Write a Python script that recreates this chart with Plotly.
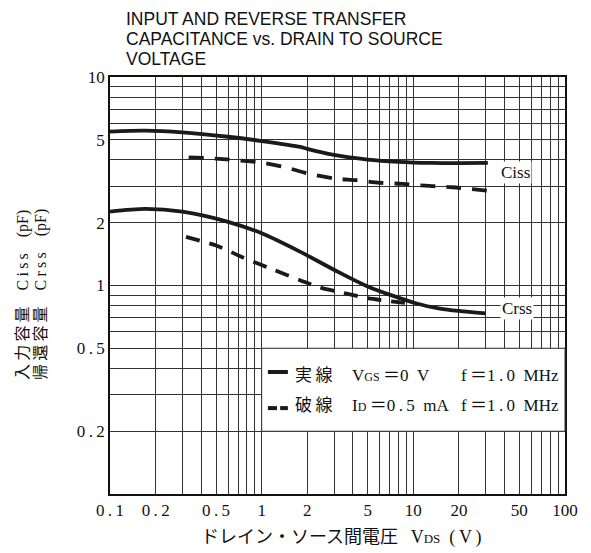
import plotly.graph_objects as go

# ---- data ----
ciss_solid_x = [0.1, 0.17, 0.3, 0.6, 1.0, 1.8, 2.0, 3.0, 5.0, 8.0, 13, 20, 31]
ciss_solid_y = [5.47, 5.53, 5.43, 5.17, 4.93, 4.62, 4.52, 4.23, 4.02, 3.92, 3.87, 3.86, 3.87]

ciss_dash_x = [0.33, 0.5, 0.8, 1.0, 1.43, 2.0, 3.0, 4.2, 6.0, 8.5, 12, 18, 30.5]
ciss_dash_y = [4.12, 4.06, 3.95, 3.88, 3.69, 3.45, 3.26, 3.2, 3.11, 3.07, 3.01, 2.96, 2.85]

crss_solid_x = [0.1, 0.17, 0.3, 0.6, 1.0, 1.8, 3.0, 5.0, 10.5, 15, 20, 30]
crss_solid_y = [2.26, 2.33, 2.26, 2.02, 1.78, 1.45, 1.19, 0.99, 0.82, 0.775, 0.755, 0.735]

crss_dash_x = [0.317, 0.506, 0.74, 1.13, 1.79, 2.4, 3.5, 5.0, 8.8]
crss_dash_y = [1.71, 1.55, 1.37, 1.21, 1.06, 0.98, 0.92, 0.87, 0.825]

TS = "\u2009"   # thin space (imitates the wide typesetting of the original)
EN = "\u2002"
x_labels = {0.1: f"0{TS}.{TS}1", 0.2: f"0{TS}.{TS}2", 0.5: f"0{TS}.{TS}5", 1: "1", 2: "2", 5: "5",
            10: "10", 20: "20", 50: "50", 100: "100"}
y_labels = {0.2: f"0{TS}.{TS}2", 0.5: f"0{TS}.{TS}5", 1: "1", 2: "2", 5: "5", 10: "10"}

SMALL = "<span style='font-size:{}px'>{}</span>"

title_lines = ["INPUT AND REVERSE TRANSFER", "CAPACITANCE vs. DRAIN TO SOURCE", "VOLTAGE"]
x_title = ("ドレイン・ソース間電圧" + EN + TS + "V" + SMALL.format(13, "DS")
           + f"{EN}({TS}V{TS})")
y_title_lines = [f"入{TS}力{TS}容{TS}量　C{TS}i{TS}s{TS}s　(pF)",
                 f"帰{TS}還{TS}容{TS}量　C{TS}r{TS}s{TS}s　(pF)"]

legend_rows = [
    (f"実{TS}線", "V" + SMALL.format(12, "GS") + f"{TS}＝0{EN}V", f"f{TS}＝1{TS}.{TS}0{EN}MHz"),
    (f"破{TS}線", "I" + SMALL.format(12, "D") + f"{TS}＝0{TS}.{TS}5{EN}mA", f"f{TS}＝1{TS}.{TS}0{EN}MHz"),
]


def grid_vals(lo_exp, hi_exp):
    vals = []
    for e in range(lo_exp, hi_exp):
        for m in range(1, 10):
            vals.append(round(m * 10 ** e, 6))
    vals.append(round(10 ** hi_exp, 6))
    return vals


xv = grid_vals(-1, 2)
yv = grid_vals(-1, 1)


def lab(d, v):
    for k, t in d.items():
        if abs(k - v) < 1e-9:
            return t
    return ""


SERIF = "Liberation Serif, Noto Sans CJK JP"
INK = "#1a1a1a"
TXT = "#111111"

fig = go.Figure()
line_w = 3.8
fig.add_trace(go.Scatter(x=ciss_solid_x, y=ciss_solid_y, mode="lines",
                         line=dict(color=INK, width=line_w, shape="spline", smoothing=0.8)))
fig.add_trace(go.Scatter(x=ciss_dash_x, y=ciss_dash_y, mode="lines",
                         line=dict(color=INK, width=line_w, dash="15px,11px", shape="spline", smoothing=0.8)))
fig.add_trace(go.Scatter(x=crss_solid_x, y=crss_solid_y, mode="lines",
                         line=dict(color=INK, width=line_w, shape="spline", smoothing=0.8)))
fig.add_trace(go.Scatter(x=crss_dash_x, y=crss_dash_y, mode="lines",
                         line=dict(color=INK, width=line_w, dash="14px,10px", shape="spline", smoothing=0.8)))

axis_common = dict(type="log", showgrid=True, gridcolor="#333333", gridwidth=1,
                   showline=True, linecolor="#111111", linewidth=1.6, mirror=True,
                   ticks="", zeroline=False, tickfont=dict(family=SERIF, size=17, color=TXT))

fig.update_xaxes(range=[-1, 2], tickmode="array", tickvals=xv,
                 ticktext=[lab(x_labels, v) for v in xv], **axis_common)
fig.update_yaxes(range=[-1, 1], tickmode="array", tickvals=yv,
                 ticktext=[lab(y_labels, v) for v in yv], **axis_common)

shapes = []
# legend box (covers grid from x=1..100, y=0.2..0.5)
shapes.append(dict(type="rect", xref="paper", yref="paper", x0=1 / 3, x1=1.0,
                   y0=0.150515, y1=0.349485, line=dict(color="#333333", width=1),
                   fillcolor="white", layer="above"))
# legend samples
shapes.append(dict(type="line", xref="paper", yref="paper", x0=0.347, x1=0.391, y0=0.2926, y1=0.2926,
                   line=dict(color=INK, width=4)))
shapes.append(dict(type="line", xref="paper", yref="paper", x0=0.347, x1=0.367, y0=0.206, y1=0.206,
                   line=dict(color=INK, width=4)))
shapes.append(dict(type="line", xref="paper", yref="paper", x0=0.374, x1=0.391, y0=0.206, y1=0.206,
                   line=dict(color=INK, width=4)))
fig.update_layout(shapes=shapes)

ann = []
for t, yy in zip(title_lines, [1.139, 1.092, 1.043]):
    ann.append(dict(text=t, xref="paper", yref="paper", x=0.0308, y=yy, xanchor="left", yanchor="middle",
                    showarrow=False, font=dict(family="Liberation Sans, Arial", size=17.5, color=TXT)))

# x axis title
ann.append(dict(text=x_title, xref="paper", yref="paper", x=(199 - 110) / 455, y=(494 - 537) / 417,
                xanchor="left", yanchor="middle", showarrow=False,
                font=dict(family=SERIF, size=18, color=TXT)))

# y axis title (two rotated lines)
for t, xx in zip(y_title_lines, [(23 - 110) / 455, (41 - 110) / 455]):
    ann.append(dict(text=t, xref="paper", yref="paper", x=xx, y=(494 - 295) / 417, xanchor="center",
                    yanchor="middle", textangle=-90, showarrow=False,
                    font=dict(family=SERIF, size=16, color=TXT)))

ann.append(dict(text="Ciss", xref="paper", yref="paper", x=0.892, y=0.772, xanchor="center", yanchor="middle",
                showarrow=False, bgcolor="white", borderpad=1,
                font=dict(family=SERIF, size=17, color=TXT)))
ann.append(dict(text="Crss", xref="paper", yref="paper", x=0.895, y=0.444, xanchor="center", yanchor="middle",
                showarrow=False, bgcolor="white", borderpad=1,
                font=dict(family=SERIF, size=17, color=TXT)))

for (a, b, c), yy in zip(legend_rows, [0.285, 0.213]):
    for txt, xx in zip((a, b, c), ((293 - 110) / 455, (350 - 110) / 455, (459 - 110) / 455)):
        ann.append(dict(text=txt, xref="paper", yref="paper", x=xx, y=yy, xanchor="left", yanchor="middle",
                        showarrow=False, font=dict(family=SERIF, size=17, color=TXT)))

fig.update_layout(annotations=ann)

# the page body adds an 8px offset, so the figure is 8px smaller with 8px less left/top margin
fig.update_layout(width=583, height=545, margin=dict(l=102, r=26, t=69, b=59),
                  paper_bgcolor="white", plot_bgcolor="white", showlegend=False)

fig.write_html("out.html")
